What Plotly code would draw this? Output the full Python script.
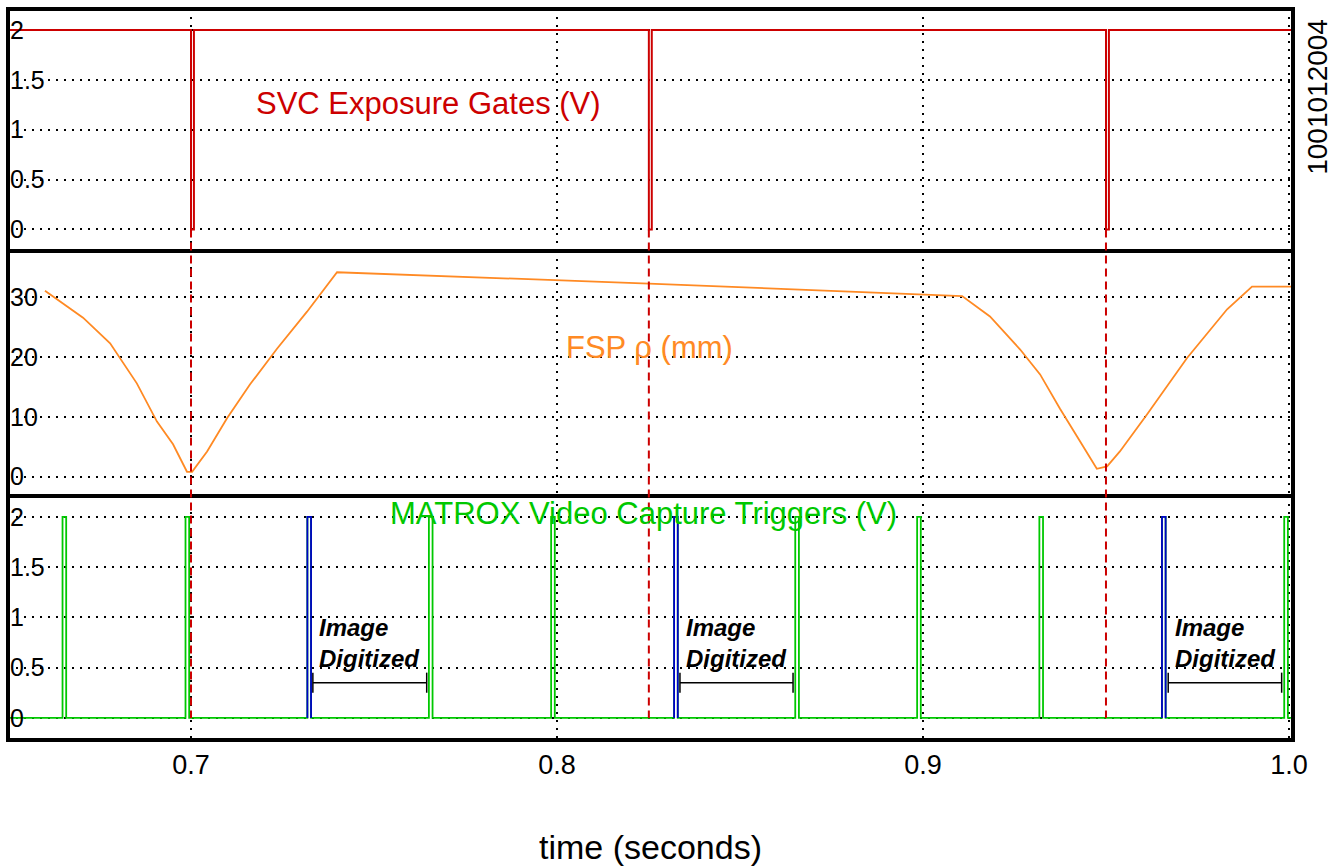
import plotly.graph_objects as go
from plotly.subplots import make_subplots

# ---- data -------------------------------------------------------------
# SVC exposure gate: falling-edge times (s) and gate-low duration (s)
gate_fall_t = [0.7000, 0.8251, 0.9500]
gate_low_dur = 0.0008
gate_high_v = 2.0
gate_low_v = 0.0

# FSP rho (mm) versus time (s)
rho_t = [0.6601, 0.6705, 0.6779, 0.6852, 0.6907, 0.6951, 0.6989, 0.7003,
         0.7044, 0.7098, 0.7161, 0.7235, 0.7317, 0.7399, 0.8251, 0.8883,
         0.9107, 0.9183, 0.9265, 0.9320, 0.9374, 0.9429, 0.9475, 0.9503,
         0.9538, 0.9612, 0.9721, 0.9831, 0.9899, 0.9975, 1.0013]
rho_mm = [31.1, 26.6, 22.3, 15.6, 9.2, 5.4, 0.8, 0.8,
          4.2, 9.7, 15.4, 21.4, 27.6, 34.2, 32.3, 30.8,
          30.2, 26.8, 21.3, 17.1, 11.4, 5.9, 1.3, 1.7,
          4.2, 10.4, 19.8, 28.0, 31.8, 31.8, 31.8]

# MATROX capture trigger rising edges (s); blue = frames that were digitized
trig_green_t = [0.6649, 0.6985, 0.7650, 0.7984, 0.8651, 0.8984, 0.9318, 0.9987]
trig_blue_t = [0.7318, 0.8320, 0.9653]
trig_dur = 0.0010
trig_high_v = 2.0

# "Image Digitized" interval brackets (s) and their level (V)
digit_start = [0.7333, 0.8336, 0.9670]
digit_end = [0.7644, 0.8645, 0.9980]
digit_level = 0.35
digit_cap = 0.10

x_ticks = [0.7, 0.8, 0.9, 1.0]
x_ticktext = ["0.7", "0.8", "0.9", "1.0"]
volt_ticks = [0, 0.5, 1, 1.5, 2]
volt_ticktext = ["0", "0.5", "1", "1.5", "2"]
rho_ticks = [0, 10, 20, 30]

X_RANGE = [0.65, 1.0011]
VOLT_RANGE = [-0.22, 2.21]
RHO_RANGE = [-3.2, 37.7]

RED = "#cc0000"
ORANGE = "#ff8a24"
GREEN = "#00c800"
BLUE = "#0000c8"
FONT = "Liberation Sans, Arial, sans-serif"


def pulse_train(starts, width, low, high, t0, t1, inverted=False):
    """Build a rectangular pulse train as x/y step points."""
    base, peak = (high, low) if inverted else (low, high)
    xs, ys = [t0], [base]
    for s in starts:
        xs += [s, s, s + width, s + width]
        ys += [base, peak, peak, base]
    xs.append(t1)
    ys.append(base)
    return xs, ys


def pulses_only(starts, width, low, high):
    xs, ys = [], []
    for s in starts:
        xs += [s, s, s + width, s + width, None]
        ys += [low, high, high, low, None]
    return xs, ys


fig = make_subplots(rows=3, cols=1, shared_xaxes=True, vertical_spacing=0)

# top: exposure gates
gx, gy = pulse_train(gate_fall_t, gate_low_dur, gate_low_v, gate_high_v,
                     X_RANGE[0], X_RANGE[1], inverted=True)
fig.add_trace(go.Scatter(x=gx, y=gy, mode="lines",
                         line=dict(color=RED, width=2)), row=1, col=1)

# middle: FSP rho
fig.add_trace(go.Scatter(x=rho_t, y=rho_mm, mode="lines",
                         line=dict(color=ORANGE, width=1.8)), row=2, col=1)

# bottom: capture triggers
tx, ty = pulse_train(sorted(trig_green_t + trig_blue_t), trig_dur, 0.0,
                     trig_high_v, X_RANGE[0], X_RANGE[1])
fig.add_trace(go.Scatter(x=tx, y=ty, mode="lines",
                         line=dict(color=GREEN, width=1.8)), row=3, col=1)
bx, by = pulses_only(trig_blue_t, trig_dur, 0.0, trig_high_v)
fig.add_trace(go.Scatter(x=bx, y=by, mode="lines",
                         line=dict(color=BLUE, width=1.8)), row=3, col=1)

# digitization brackets with end caps
kx, ky = [], []
for a, b in zip(digit_start, digit_end):
    kx += [a, b, None, a, a, None, b, b, None]
    ky += [digit_level, digit_level, None,
           digit_level - digit_cap, digit_level + digit_cap, None,
           digit_level - digit_cap, digit_level + digit_cap, None]
fig.add_trace(go.Scatter(x=kx, y=ky, mode="lines",
                         line=dict(color="black", width=1.5)), row=3, col=1)

# panel domains (bottom, middle, top)
total_h = 733.0
dom_bot = [0.0, 245 / total_h]
dom_mid = [245 / total_h, 490 / total_h]
dom_top = [490 / total_h, 1.0]

grid_style = dict(showgrid=True, gridcolor="black", gridwidth=1.5,
                  griddash="2px,6px", zeroline=False, showline=True,
                  mirror=True, linecolor="black", linewidth=2, ticks="")
ytick_font = dict(family=FONT, size=25, color="black")
xtick_font = dict(family=FONT, size=27, color="black")

for i in (1, 2, 3):
    fig.update_xaxes(range=X_RANGE, tickvals=x_ticks, ticktext=x_ticktext,
                     showticklabels=(i == 3), tickfont=xtick_font,
                     row=i, col=1, **grid_style)

ylabel_opts = dict(ticklabelposition="inside", tickfont=ytick_font,
                   ticklabelstandoff=4)
fig.update_yaxes(range=VOLT_RANGE, tickvals=volt_ticks, ticktext=volt_ticktext,
                 domain=dom_top, row=1, col=1, **ylabel_opts, **grid_style)
fig.update_yaxes(range=RHO_RANGE, tickvals=rho_ticks, domain=dom_mid,
                 row=2, col=1, **ylabel_opts, **grid_style)
fig.update_yaxes(range=VOLT_RANGE, tickvals=volt_ticks, ticktext=volt_ticktext,
                 domain=dom_bot, row=3, col=1, **ylabel_opts, **grid_style)


def to_paper(v, rng, dom):
    return dom[0] + (v - rng[0]) / (rng[1] - rng[0]) * (dom[1] - dom[0])


# exposure markers running from the gate low level down to the trigger baseline
y_from = to_paper(gate_low_v, VOLT_RANGE, dom_top)
y_to = to_paper(0.0, VOLT_RANGE, dom_bot)
for t in gate_fall_t:
    fig.add_shape(type="line", xref="x", yref="paper", x0=t, x1=t,
                  y0=y_from, y1=y_to,
                  line=dict(color=RED, width=2, dash="8px,5px"))

# outer frame
fig.add_shape(type="rect", xref="paper", yref="paper", x0=0, x1=1, y0=0, y1=1,
              line=dict(color="black", width=4))

annots = [
    dict(text="SVC Exposure Gates (V)", x=0.765, y=1.26, xref="x", yref="y",
         font=dict(family=FONT, size=31, color=RED)),
    dict(text="FSP \u03c1 (mm)", x=0.8254, y=21.6, xref="x2", yref="y2",
         font=dict(family=FONT, size=31, color=ORANGE)),
    dict(text="MATROX Video Capture Triggers (V)", x=0.8235, y=2.03,
         xref="x3", yref="y3", font=dict(family=FONT, size=31, color=GREEN)),
    dict(text="time (seconds)", x=0.5, y=-0.147, xref="paper", yref="paper",
         xanchor="center", yanchor="middle",
         font=dict(family=FONT, size=34, color="black")),
    dict(text="1001012004", x=1.0195, y=0.88, xref="paper", yref="paper",
         xanchor="center", yanchor="middle", textangle=-90,
         font=dict(family=FONT, size=28, color="black")),
]
for a, b in zip(digit_start, digit_end):
    annots.append(dict(text="<b><i>Image</i></b><br><b><i>Digitized</i></b>",
                       x=a + 0.0012, y=0.74, xref="x3", yref="y3",
                       xanchor="left", yanchor="middle", align="left",
                       font=dict(family=FONT, size=24, color="black")))
for a in annots:
    a.setdefault("showarrow", False)
    fig.add_annotation(**a)

fig.update_layout(width=1342, height=867, showlegend=False,
                  margin=dict(l=8, r=49, t=7, b=127),
                  paper_bgcolor="white", plot_bgcolor="white",
                  font=dict(family=FONT))

fig.write_html("out.html")
